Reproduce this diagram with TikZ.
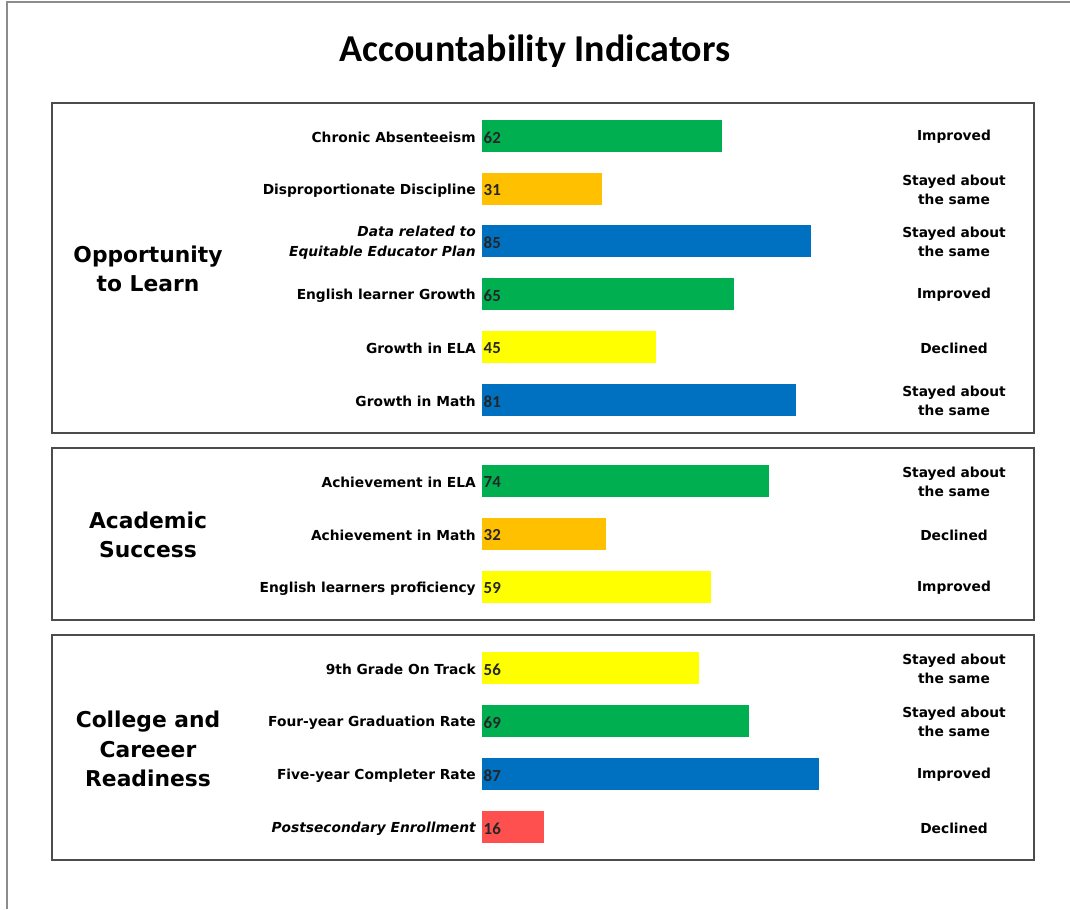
\documentclass[tikz,border=0pt]{standalone}
\usepackage{fontspec}
\setmainfont{DejaVu Sans}
\newfontfamily\titlefont{Carlito}
\usetikzlibrary{positioning}
\definecolor{indgreen}{HTML}{00B050}
\definecolor{indorange}{HTML}{FFC000}
\definecolor{indblue}{HTML}{0070C0}
\definecolor{indyellow}{HTML}{FFFF00}
\definecolor{indred}{HTML}{FF5050}
\newcommand{\rowfont}{\fontsize{9.8}{14}\selectfont\bfseries}
\tikzset{
    panel/.style={draw=black!70, line width=1.8pt}, % boxes round the three groups
    grouplab/.style={align=center, font=\fontsize{15.5}{21}\selectfont\bfseries},
    bar/.style={anchor=west, inner sep=0pt, minimum height=0.8cm},
    numlab/.style={anchor=west, inner sep=1pt, text=black!85,
        font=\titlefont\fontsize{12}{14}\selectfont\bfseries},
    rowlab/.style={align=right, inner sep=0pt},
    statlab/.style={align=center, inner sep=0pt, font=\rowfont}}

\begin{document}
\begin{tikzpicture}[x=0.025cm, y=-0.025cm]
    \useasboundingbox (0,0) rectangle (1070,909);
    % outer frame
    \draw[black!45, line width=0.8pt] (7,909) -- (7,2) -- (1070,2);

    % title
    \node[font=\titlefont\fontsize{27}{30}\selectfont\bfseries] (title) at (535,51) {Accountability Indicators};

    % group boxes
    \draw[panel] (52,103) rectangle (1034,433);
    \draw[panel] (52,448) rectangle (1034,620);
    \draw[panel] (52,635) rectangle (1034,860);

    \node[grouplab] (grp1) at (148,269) {Opportunity\\to Learn};
    \node[grouplab] (grp2) at (148,535) {Academic\\Success};
    \node[grouplab] (grp3) at (148,749) {College and\\Careeer\\Readiness};

    % indicator rows: y / value / colour / label / status / italic
    \foreach \y/\v/\col/\lab/\stat/\k [count=\i] in {
        136/62/indgreen/{Chronic Absenteeism}/{Improved}/0,
        189/31/indorange/{Disproportionate Discipline}/{Stayed about\\the same}/0,
        241/85/indblue/{Data related to\\Equitable Educator Plan}/{Stayed about\\the same}/1,
        294/65/indgreen/{English learner Growth}/{Improved}/0,
        347/45/indyellow/{Growth in ELA}/{Declined}/0,
        400/81/indblue/{Growth in Math}/{Stayed about\\the same}/0,
        481/74/indgreen/{Achievement in ELA}/{Stayed about\\the same}/0,
        534/32/indorange/{Achievement in Math}/{Declined}/0,
        587/59/indyellow/{English learners proficiency}/{Improved}/0,
        668/56/indyellow/{9th Grade On Track}/{Stayed about\\the same}/0,
        721/69/indgreen/{Four-year Graduation Rate}/{Stayed about\\the same}/0,
        774/87/indblue/{Five-year Completer Rate}/{Improved}/0,
        827/16/indred/{Postsecondary Enrollment}/{Declined}/1}
    {
        \node[bar, fill=\col, minimum width={3.87*\v*0.025cm}] (bar\i) at (482,\y) {};
        \node[numlab] (num\i) at ([yshift=-1pt]bar\i.west) {\v};
        \node[rowlab, left=0.15cm of {[yshift=-1pt]bar\i.west},
            font={\rowfont\ifnum\k=1 \itshape\fi}] (lab\i) {\lab};
        \node[statlab] (stat\i) at (954,\y+1) {\stat};
    }
\end{tikzpicture}
\end{document}
